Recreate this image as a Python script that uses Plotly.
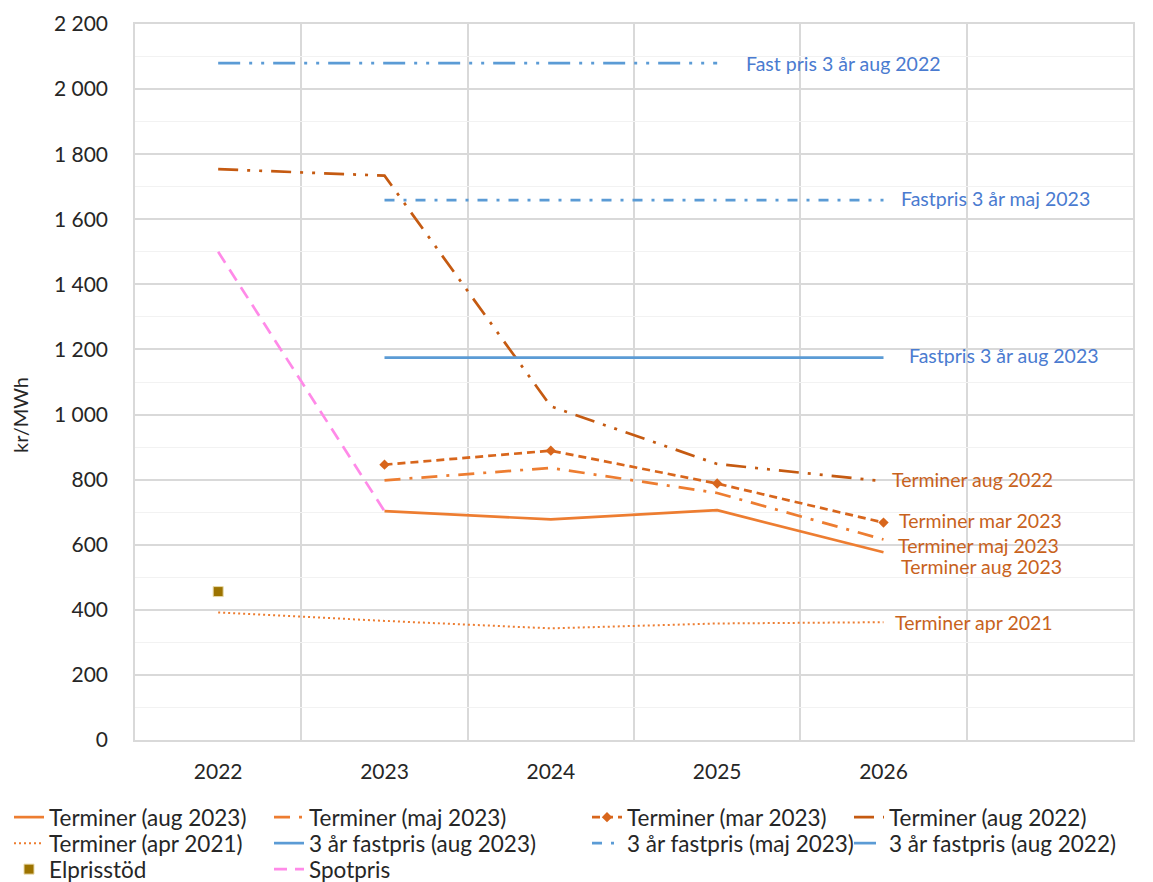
import plotly.graph_objects as go

years = [2022, 2023, 2024, 2025, 2026]

terminer_aug_2023 = [None, 703, 678, 706, 577]
terminer_maj_2023 = [None, 798, 836, 759, 616]
terminer_mar_2023 = [None, 846, 889, 788, 668]
terminer_aug_2022 = [1754, 1734, 1025, 848, 795]
terminer_apr_2021 = [392, 366, 343, 358, 362]
fastpris_aug_2023 = [None, 1175, 1175, 1175, 1175]
fastpris_maj_2023 = [None, 1659, 1659, 1659, 1659]
fastpris_aug_2022 = [2080, 2080, 2080, 2080, None]
elprisstod = [456, None, None, None, None]
spotpris = [1500, 703, None, None, None]

FONT = "Lato"
OR = "#ED7D31"
OR_D = "#D8661C"
OR_DD = "#C55A11"
BLUE = "#5B9BD5"
LBL_OR = "#C8621C"
LBL_BL = "#4A7BD0"

fig = go.Figure()

def add(name, y, color, dash, width, slot, mode="lines", marker=None):
    fig.add_trace(go.Scatter(
        x=years, y=y, name=name, mode=mode, legend=slot,
        line=dict(color=color, dash=dash, width=width),
        marker=marker, connectgaps=False,
    ))

add("Terminer (aug 2023)", terminer_aug_2023, OR, "solid", 2.7, "legend")
add("Terminer (maj 2023)", terminer_maj_2023, OR, "16px,9px,3px,9px", 2.7, "legend2")
add("Terminer (mar 2023)", terminer_mar_2023, OR_D, "8px,5px", 2.7, "legend3",
    mode="lines+markers", marker=dict(symbol="diamond", size=8, color=OR_D))
add("Terminer (aug 2022)", terminer_aug_2022, OR_DD, "20px,9px,3px,9px,3px,9px", 2.7, "legend4")
add("Terminer (apr 2021)", terminer_apr_2021, OR, "2px,3px", 2, "legend5")
add("3 år fastpris (aug 2023)", fastpris_aug_2023, BLUE, "solid", 2.7, "legend6")
add("3 år fastpris (maj 2023)", fastpris_maj_2023, BLUE, "10px,9px,3px,9px", 2.7, "legend7")
add("3 år fastpris (aug 2022)", fastpris_aug_2022, BLUE, "22px,9px,3px,9px,3px,9px", 2.7, "legend8")
fig.add_trace(go.Scatter(x=years, y=elprisstod, name="Elprisstöd", mode="markers",
                         legend="legend9",
                         marker=dict(symbol="square", size=10, color="#9C7300",
                                     line=dict(color="#E8D9A8", width=1))))
add("Spotpris", spotpris, "#FF8AE8", "13px,8px", 2.7, "legend10")

ann = [
    ("Fast pris 3 år aug 2022", 2025, fastpris_aug_2022[3], 27, 0, LBL_BL),
    ("Fastpris 3 år maj 2023", 2026, fastpris_maj_2023[4], 15, 2, LBL_BL),
    ("Fastpris 3 år aug 2023", 2026, fastpris_aug_2023[4], 23, 2, LBL_BL),
    ("Terminer aug 2022", 2026, terminer_aug_2022[4], 6, 2, LBL_OR),
    ("Terminer mar 2023", 2026, terminer_mar_2023[4], 13, 2, LBL_OR),
    ("Terminer maj 2023", 2026, terminer_maj_2023[4], 12, -6, LBL_OR),
    ("Terminer aug 2023", 2026, terminer_aug_2023[4], 15, -14, LBL_OR),
    ("Terminer apr 2021", 2026, terminer_apr_2021[4], 9, 0, LBL_OR),
]
for text, x, y, xs, ys, col in ann:
    fig.add_annotation(x=x, y=y, text=text, showarrow=False, xanchor="left",
                       yanchor="middle", xshift=xs, yshift=ys,
                       font=dict(family=FONT, size=19.5, color=col))

# y-axis title
fig.add_annotation(xref="paper", yref="paper", x=-0.1152, y=0.454, text="kr/MWh",
                   textangle=-90, showarrow=False, xanchor="center", yanchor="middle",
                   font=dict(family=FONT, size=20, color="#262626"))

GRID = "#D9D9D9"
fig.update_layout(
    width=1153, height=882,
    margin=dict(l=127, r=28, t=16, b=150, autoexpand=False),
    paper_bgcolor="white", plot_bgcolor="white",
    separators=", ",
    font=dict(family=FONT, size=21, color="#262626"),
    xaxis=dict(range=[2021.5, 2027.5], tickvals=years, ticktext=[str(v) for v in years],
               showgrid=False, zeroline=False, showline=True, mirror=True,
               linecolor=GRID, linewidth=1.5, ticks="", ticklabelstandoff=12,
               automargin=False,
               minor=dict(tickvals=[2022.5, 2023.5, 2024.5, 2025.5, 2026.5],
                          showgrid=True, gridcolor=GRID, gridwidth=1.5, ticks=""),
               tickfont=dict(size=21)),
    yaxis=dict(range=[0, 2200], dtick=200, tickformat=",d", showgrid=True,
               gridcolor=GRID, gridwidth=1.5, zeroline=False, showline=True,
               mirror=True, linecolor=GRID, linewidth=1.5, ticks="",
               ticklabelstandoff=21, automargin=False,
               minor=dict(dtick=100, showgrid=True, gridcolor="#F2F2F2", gridwidth=1),
               tickfont=dict(size=21)),
    showlegend=True,
)

col_x = [1, 261, 579, 841]
row_top = [788, 814, 840]
W, H = 1153, 882
legend_ids = ["legend"] + [f"legend{i}" for i in range(2, 11)]
for i, lid in enumerate(legend_ids):
    c, r = i % 4, i // 4
    fig.update_layout({lid: dict(
        orientation="v", yanchor="top", xanchor="left",
        xref="container", yref="container",
        x=col_x[c] / W, y=1 - row_top[r] / H,
        bgcolor="rgba(0,0,0,0)", font=dict(family=FONT, size=22.5, color="#262626"),
        itemwidth=30)})

fig.write_html("out.html")
